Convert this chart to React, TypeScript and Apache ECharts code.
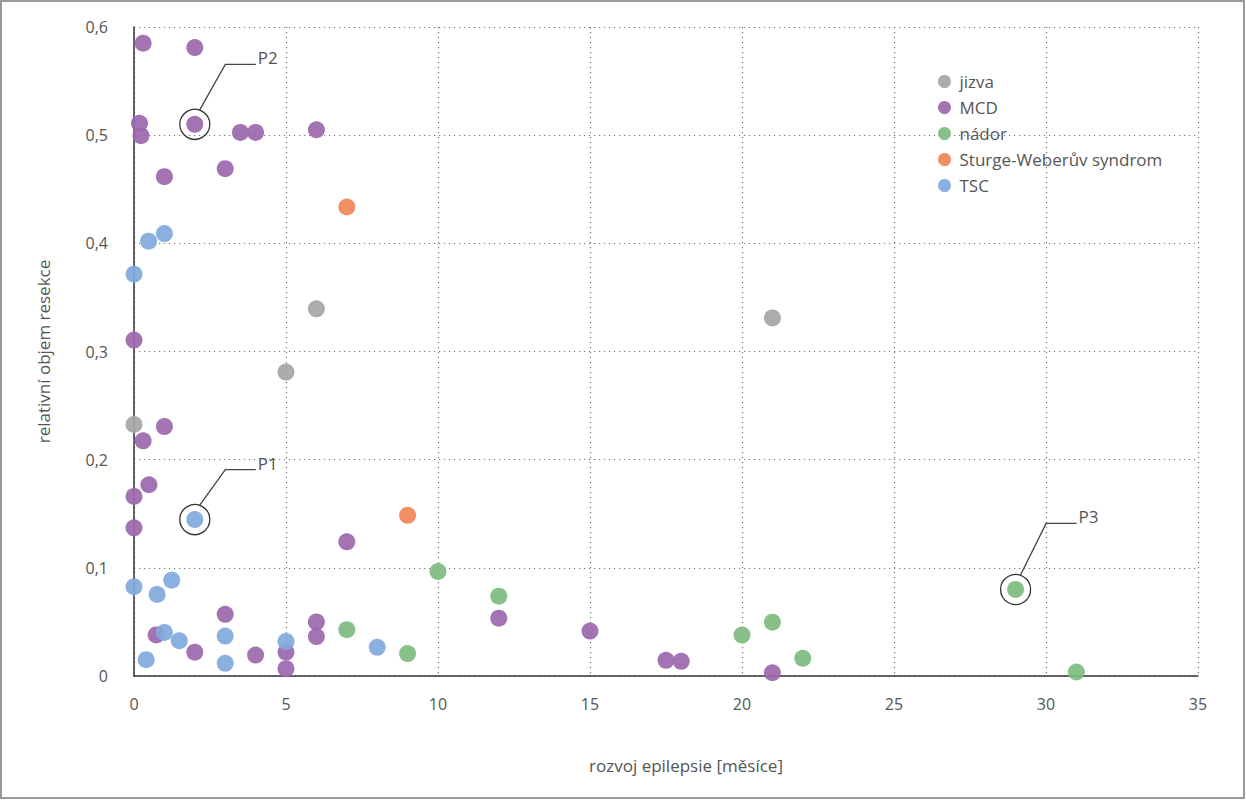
import React, { useEffect, useRef } from "react";
import * as echarts from "echarts";

const seriesNames = ["jizva", "MCD", "nádor", "Sturge-Weberův syndrom", "TSC"];
const seriesColors = ["#a5a5a5", "#9b67ad", "#7dbc7f", "#f08557", "#80a9dc"];

const jizva = [[0, 0.2325], [5, 0.281], [6, 0.3395], [21, 0.331]];
const mcd = [
  [0.3, 0.585], [2, 0.581], [0.18, 0.511], [0.23, 0.4995], [2, 0.51], [3.5, 0.5025],
  [4, 0.5025], [6, 0.505], [1, 0.4616], [3, 0.469], [0, 0.3106], [1, 0.2306],
  [0.3, 0.2174], [0.49, 0.1768], [0, 0.166], [0, 0.137], [7, 0.124], [3, 0.057],
  [6, 0.05], [6, 0.0365], [0.73, 0.038], [2, 0.022], [4, 0.0193], [5, 0.022],
  [5, 0.0068], [12, 0.0535], [15, 0.0415], [17.5, 0.0145], [18, 0.0136], [21, 0.003],
];
const nador = [
  [10, 0.0966], [7, 0.0428], [9, 0.0207], [12, 0.0738], [20, 0.0378],
  [21, 0.0498], [22, 0.0163], [29, 0.08], [31, 0.0037],
];
const sturgeWeber = [[7, 0.4336], [9, 0.1485]];
const tsc = [
  [0.48, 0.402], [1, 0.409], [0, 0.3715], [2, 0.1446], [0, 0.0825], [0.76, 0.0754],
  [1.24, 0.0886], [1, 0.0403], [1.49, 0.0326], [3, 0.0369], [0.4, 0.0151],
  [3, 0.0117], [5, 0.032], [8, 0.0265],
];

const annotLabels = ["P1", "P2", "P3"];
const annotPoints = [[2, 0.1446], [2, 0.51], [29, 0.08]];
const annotLift = [50, 60, 66];

const xTicks = { min: 0, max: 35, interval: 5 };
const yTicks = { min: 0, max: 0.6, interval: 0.1 };

const FONT = "'Open Sans', 'Noto Sans', sans-serif";

export default function App() {
  const ref = useRef<HTMLDivElement>(null);
  useEffect(() => {
    document.body.style.margin = "0";
    const chart = echarts.init(ref.current!, null, { renderer: "svg" });
    const allData = [jizva, mcd, nador, sturgeWeber, tsc];
    const scatterSeries = allData.map((d, i) => ({
      name: seriesNames[i],
      type: "scatter",
      data: d,
      symbolSize: 17,
      itemStyle: { color: seriesColors[i], opacity: 0.92 },
      z: 3,
    }));
    const gridLine = { show: true, lineStyle: { color: "#777", type: [1.2, 3.8], width: 1.2 } };
    const option: any = {
      animation: false,
      backgroundColor: "#ffffff",
      textStyle: { fontFamily: FONT },
      grid: { left: 134, right: 48, top: 27, bottom: 124, containLabel: false },
      legend: {
        data: seriesNames,
        orient: "vertical",
        left: 933,
        top: 68,
        icon: "circle",
        itemWidth: 20,
        itemHeight: 13,
        itemGap: 9,
        textStyle: { fontSize: 17, lineHeight: 17, color: "#555", fontFamily: FONT },
      },
      xAxis: {
        type: "value",
        min: xTicks.min,
        max: xTicks.max,
        interval: xTicks.interval,
        name: "rozvoj epilepsie [měsíce]",
        nameLocation: "middle",
        nameGap: 81,
        nameTextStyle: { fontSize: 17, color: "#555", fontFamily: FONT, padding: [0, 0, 0, 40] },
        axisLine: { show: true, onZero: false, lineStyle: { color: "#333", width: 1.5 } },
        axisTick: { show: false },
        axisLabel: { fontSize: 16, color: "#555", margin: 20, fontFamily: FONT },
        splitLine: gridLine,
      },
      yAxis: {
        type: "value",
        min: yTicks.min,
        max: yTicks.max,
        interval: yTicks.interval,
        name: "relativní objem resekce",
        nameLocation: "middle",
        nameGap: 82,
        nameRotate: 90,
        nameTextStyle: { fontSize: 17, color: "#555", fontFamily: FONT },
        axisLine: { show: true, onZero: false, lineStyle: { color: "#333", width: 1.5 } },
        axisTick: { show: false },
        axisLabel: {
          fontSize: 16,
          color: "#555",
          margin: 26,
          fontFamily: FONT,
          formatter: (v: number) => (v === 0 ? "0" : v.toFixed(1).replace(".", ",")),
        },
        splitLine: gridLine,
      },
      graphic: [
        {
          type: "rect",
          shape: { x: 1, y: 1, width: 1243, height: 797 },
          style: { fill: "none", stroke: "#999", lineWidth: 2 },
          silent: true,
        },
      ],
      series: [
        ...scatterSeries,
        {
          name: "annotations",
          type: "custom",
          data: annotPoints,
          z: 10,
          clip: false,
          renderItem: (params: any, api: any) => {
            const p = api.coord([api.value(0), api.value(1)]);
            const cx = p[0];
            const cy = p[1];
            const lift = annotLift[params.dataIndex];
            return {
              type: "group",
              children: [
                {
                  type: "circle",
                  shape: { cx, cy, r: 15 },
                  style: { fill: "none", stroke: "#333", lineWidth: 1.3 },
                },
                {
                  type: "polyline",
                  shape: {
                    points: [
                      [cx + 4.8, cy - 14.2],
                      [cx + 30.5, cy - lift],
                      [cx + 61, cy - lift],
                    ],
                  },
                  style: { fill: "none", stroke: "#444", lineWidth: 1.3 },
                },
                {
                  type: "text",
                  style: {
                    text: annotLabels[params.dataIndex],
                    x: cx + 63,
                    y: cy - lift + 2,
                    verticalAlign: "bottom",
                    align: "left",
                    fontSize: 17,
                    fill: "#555",
                    fontFamily: FONT,
                  },
                },
              ],
            };
          },
        },
      ],
    };
    chart.setOption(option);
    return () => chart.dispose();
  }, []);
  return <div ref={ref} style={{ width: 1246, height: 800 }} />;
}
